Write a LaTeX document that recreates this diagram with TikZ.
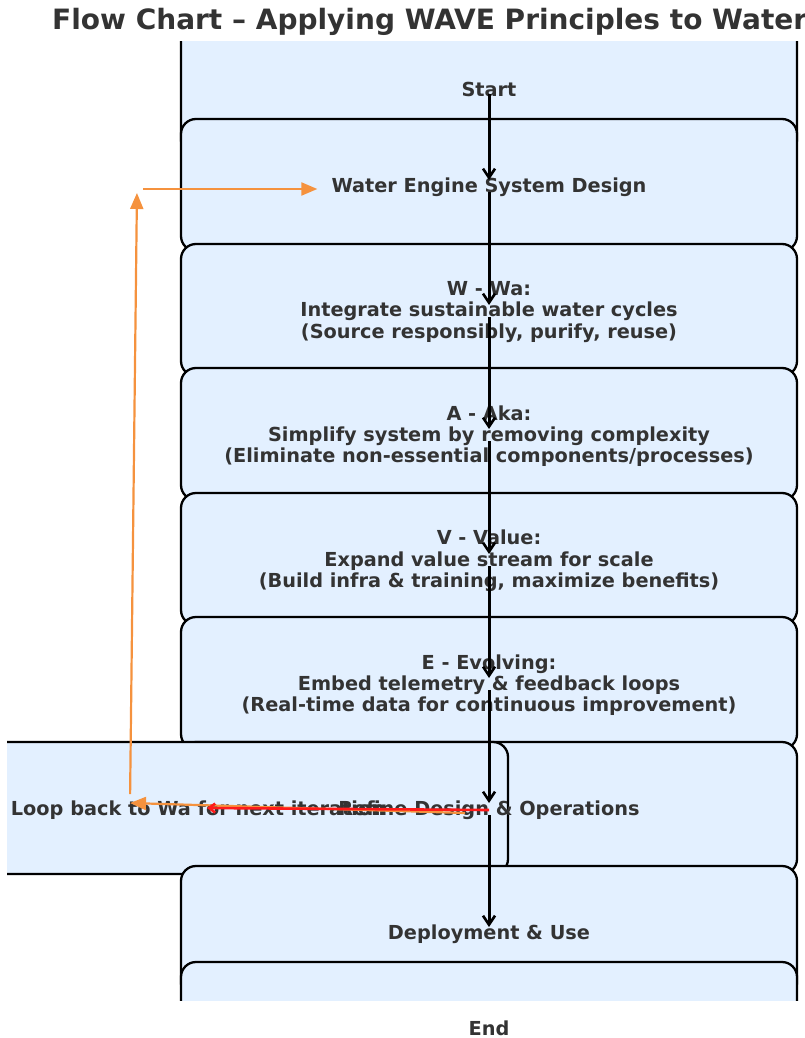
\documentclass[tikz,border=0pt]{standalone}
\usepackage{fontspec}
\setmainfont{DejaVu Sans}
\usetikzlibrary{arrows.meta,calc}
\definecolor{cbox}{HTML}{E3F0FF}
\definecolor{ctext}{HTML}{333333}
\definecolor{cloop}{HTML}{F5923E}
\definecolor{credo}{HTML}{FF1A1A}
\tikzset{
  every picture/.style={>=Latex, x=1pt, y=-1pt},
  stage/.style={draw=black, fill=cbox, line width=2.3pt, rounded corners=15pt,
    minimum width=616pt, minimum height=132pt, inner sep=0pt},
  lbl/.style={text=ctext, font=\fontsize{19.3}{21.3}\selectfont\bfseries,
    align=center, inner sep=0pt, yshift=-2pt},
  flow/.style={line width=3pt, shorten <=5pt, shorten >=7pt,
    -{Straight Barb[length=9pt,width=12pt,line width=2.6pt]}},
  fback/.style={cloop, line width=2.2pt, -{Triangle[length=16pt,width=13pt]}},
  redo/.style={credo, line width=2.6pt, -{Straight Barb[length=6pt,width=9pt]}},
}
\def\xc{489}

\begin{document}
\begin{tikzpicture}
  \useasboundingbox (0,0) rectangle (804,1038);
  \node[text=ctext, font=\fontsize{28}{32}\selectfont\bfseries, anchor=west,
    inner sep=0pt] (title) at (52,22) {Flow Chart – Applying WAVE Principles to Water};
  % boxes, clipped to the plot area
  \begin{scope}
    \clip (7,42) rectangle (804,1000);
    \foreach \n/\y in {start/89, design/185, wa/310, aka/434, value/559, evolving/683, refine/808}
      \node[stage] (b-\n) at (\xc,\y) {};
    \node[stage, minimum width=636pt] (b-loop) at (190,808) {};
    \node[stage] (b-deploy) at (\xc,932) {};
    \node[stage] (b-finish) at (\xc,1028) {};
  \end{scope}
  \node[lbl, yshift=2pt] (start) at (\xc,89) {Start};
  \node[lbl] (design) at (\xc,185) {Water Engine System Design};
  \node[lbl] (wa) at (\xc,310) {W - Wa:\\Integrate sustainable water cycles\\(Source responsibly, purify, reuse)};
  \node[lbl] (aka) at (\xc,434) {A - Aka:\\Simplify system by removing complexity\\(Eliminate non-essential components/processes)};
  \node[lbl] (value) at (\xc,559) {V - Value:\\Expand value stream for scale\\(Build infra \& training, maximize benefits)};
  \node[lbl] (evolving) at (\xc,683) {E - Evolving:\\Embed telemetry \& feedback loops\\(Real-time data for continuous improvement)};
  \node[lbl] (refine) at (\xc,808) {Refine Design \& Operations};
  \node[lbl] (loop) at (198,808) {Loop back to Wa for next iteration};
  \node[lbl] (deploy) at (\xc,932) {Deployment \& Use};
  \node[lbl, yshift=2pt] (finish) at (\xc,1028) {End};
  % main flow
  \foreach \a/\b in {start/design, design/wa, wa/aka, aka/value, value/evolving, evolving/refine, refine/deploy}
    \draw[flow] (\a.center) -- (\b.center);
  % feedback
  \coordinate (fbfrom) at (465,813);
  \coordinate (fblow) at (130,803);
  \coordinate (fbhigh) at (137,189);
  \coordinate (redto) at (207,808);
  \draw[fback] (fbfrom) -- (fblow);
  \draw[fback, shorten <=9pt, shorten >=4pt] (fblow) -- (fbhigh);
  \draw[fback, shorten <=6pt, shorten >=14pt] (fbhigh) -- (fbhigh -| design.west);
  \draw[redo] (refine.center) -- (redto);
\end{tikzpicture}
\end{document}
